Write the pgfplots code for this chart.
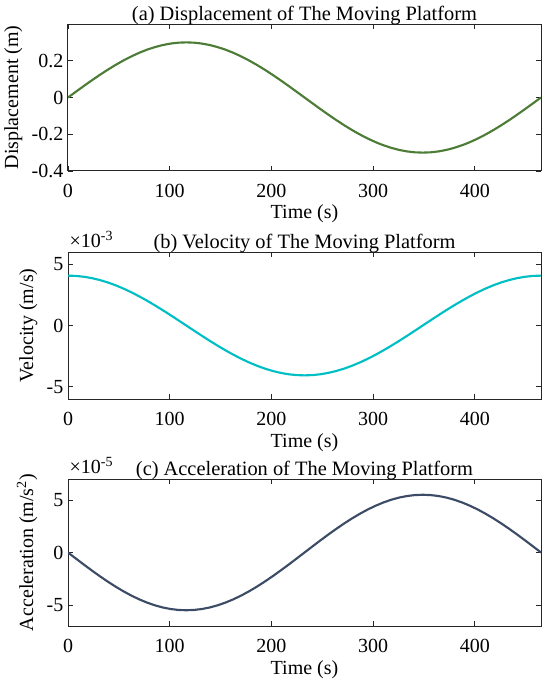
\documentclass[border=0pt]{standalone}
\usepackage{pgfplots}
\usepackage{pgfplotstable}
\pgfplotsset{compat=1.18}
\usepackage{fontspec}
\setmainfont{Liberation Serif}
\definecolor{cdisp}{RGB}{77,124,54}
\definecolor{cvel}{RGB}{0,191,196}
\definecolor{cacc}{RGB}{61,76,102}

\pgfplotstableread{
t d v a
0 0 0.00407 0
7.75 0.03136 0.004048 -5.749e-6
15.5 0.06237 0.003981 -1.1435e-5
23.25 0.09271 0.003871 -1.6996e-5
31 0.12202 0.003718 -2.2371e-5
38.75 0.15 0.003525 -2.75e-5
46.5 0.17634 0.003293 -3.2328e-5
54.25 0.20074 0.003025 -3.6802e-5
62 0.22294 0.002723 -4.0873e-5
69.75 0.24271 0.002392 -4.4496e-5
77.5 0.25981 0.002035 -4.7631e-5
85.25 0.27406 0.001655 -5.0245e-5
93 0.28532 0.001258 -5.2308e-5
100.75 0.29344 0.000846 -5.3798e-5
108.5 0.29836 0.000425 -5.4699e-5
116.25 0.3 0 -5.5e-5
124 0.29836 -0.000425 -5.4699e-5
131.75 0.29344 -0.000846 -5.3798e-5
139.5 0.28532 -0.001258 -5.2308e-5
147.25 0.27406 -0.001655 -5.0245e-5
155 0.25981 -0.002035 -4.7631e-5
162.75 0.24271 -0.002392 -4.4496e-5
170.5 0.22294 -0.002723 -4.0873e-5
178.25 0.20074 -0.003025 -3.6802e-5
186 0.17634 -0.003293 -3.2328e-5
193.75 0.15 -0.003525 -2.75e-5
201.5 0.12202 -0.003718 -2.2371e-5
209.25 0.09271 -0.003871 -1.6996e-5
217 0.06237 -0.003981 -1.1435e-5
224.75 0.03136 -0.004048 -5.749e-6
232.5 0 -0.00407 0
240.25 -0.03136 -0.004048 5.749e-6
248 -0.06237 -0.003981 1.1435e-5
255.75 -0.09271 -0.003871 1.6996e-5
263.5 -0.12202 -0.003718 2.2371e-5
271.25 -0.15 -0.003525 2.75e-5
279 -0.17634 -0.003293 3.2328e-5
286.75 -0.20074 -0.003025 3.6802e-5
294.5 -0.22294 -0.002723 4.0873e-5
302.25 -0.24271 -0.002392 4.4496e-5
310 -0.25981 -0.002035 4.7631e-5
317.75 -0.27406 -0.001655 5.0245e-5
325.5 -0.28532 -0.001258 5.2308e-5
333.25 -0.29344 -0.000846 5.3798e-5
341 -0.29836 -0.000425 5.4699e-5
348.75 -0.3 0 5.5e-5
356.5 -0.29836 0.000425 5.4699e-5
364.25 -0.29344 0.000846 5.3798e-5
372 -0.28532 0.001258 5.2308e-5
379.75 -0.27406 0.001655 5.0245e-5
387.5 -0.25981 0.002035 4.7631e-5
395.25 -0.24271 0.002392 4.4496e-5
403 -0.22294 0.002723 4.0873e-5
410.75 -0.20074 0.003025 3.6802e-5
418.5 -0.17634 0.003293 3.2328e-5
426.25 -0.15 0.003525 2.75e-5
434 -0.12202 0.003718 2.2371e-5
441.75 -0.09271 0.003871 1.6996e-5
449.5 -0.06237 0.003981 1.1435e-5
457.25 -0.03136 0.004048 5.749e-6
465 0 0.00407 0
}\motion

\pgfplotsset{
  myax/.style={
    scale only axis,
    width=354.75pt, height=110.25pt,
    anchor=north west,
    xmin=0, xmax=465,
    xtick={0,100,200,300,400},
    tick align=inside,
    major tick length=3.75pt,
    minor tick num=0,
    clip mode=individual,
    axis line style={black!85, line width=0.75pt},
    every tick/.style={black!85, line width=0.6pt},
    font=\fontsize{15}{18}\selectfont,
    /pgf/number format/assume math mode=true,
    xlabel={Time (s)},
    title style={at={(0.5,1)}, anchor=base, yshift=-3.7pt, font=\fontsize{15.3}{18}\selectfont},
    xticklabel style={anchor=base, yshift=-19.8pt},
    xlabel style={at={(axis description cs:0.5,0)}, anchor=base, yshift=-36pt},
    ytick scale label code/.code={},
  }
}

\begin{document}
\begin{tikzpicture}
\path[use as bounding box] (0,0) rectangle (412.5pt,-513.75pt);

\begin{axis}[myax, at={(51pt,-18pt)},
  ymin=-0.4, ymax=0.4,
  ytick={-0.4,-0.2,0,0.2},
  yticklabel style={/pgf/number format/fixed},
  ylabel={Displacement (m)},
  title={(a) Displacement of The Moving Platform}]
\addplot[cdisp, line width=1.6pt] table[x=t, y=d] {\motion};
\end{axis}

\begin{axis}[myax, at={(51pt,-189pt)},
  ymin=-0.006, ymax=0.006,
  ytick={-0.005,0,0.005},
  scaled y ticks=base 10:3,
  ylabel={Velocity (m/s)},
  title={(b) Velocity of The Moving Platform}]
\addplot[cvel, line width=1.6pt] table[x=t, y=v] {\motion};
\node[anchor=base west, inner sep=0pt, xshift=1pt, yshift=3.6pt, font=\fontsize{15}{18}\selectfont] at (rel axis cs:0,1) {×10\textsuperscript{-3}};
\end{axis}

\begin{axis}[myax, at={(51pt,-359.25pt)},
  ymin=-7e-5, ymax=7e-5,
  ytick={-5e-5,0,5e-5},
  scaled y ticks=base 10:5,
  ylabel={Acceleration (m/s\textsuperscript{2})},
  title={(c) Acceleration of The Moving Platform}]
\addplot[cacc, line width=1.6pt] table[x=t, y=a] {\motion};
\node[anchor=base west, inner sep=0pt, xshift=1pt, yshift=4pt, font=\fontsize{15}{18}\selectfont] at (rel axis cs:0,1) {×10\textsuperscript{-5}};
\end{axis}
\end{tikzpicture}
\end{document}
